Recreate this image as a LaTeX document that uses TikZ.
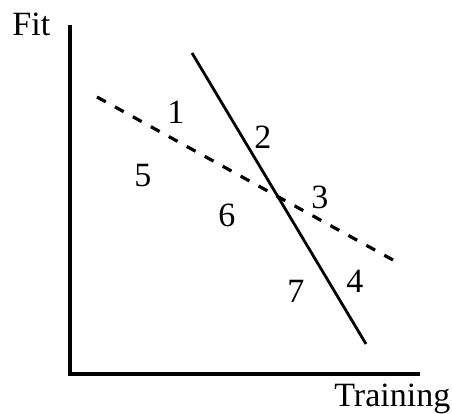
\documentclass[tikz,border=0pt]{standalone}
\usepackage{fontspec}
\setmainfont{Liberation Serif}
\usepackage{tikz}
\usetikzlibrary{positioning}
\tikzset{
  axisline/.style={line width=2pt, line cap=rect},
  fitline/.style={line width=1.4pt},
  trainline/.style={line width=1.6pt, dash pattern=on 5pt off 5.25pt},
  numlabel/.style={inner sep=0pt, font=\fontsize{17}{20}\selectfont},
  axislabel/.style={inner sep=0pt, font=\fontsize{17}{20}\selectfont}
}

\begin{document}
\begin{tikzpicture}[x=0.5pt, y=0.5pt]
  \useasboundingbox (0,0) rectangle (452,414);

  % axes
  \coordinate (top) at (70,387);
  \coordinate (origin) at (70,40);
  \coordinate (right) at (418,40);
  \draw[axisline] (top) -- (origin) -- (right);
  \node[axislabel, anchor=base west] (fit) at (12,379) {Fit};
  \node[axislabel, anchor=base west] (training) at (334,7) {Training};

  % lines
  \coordinate (solidA) at (192,361);
  \coordinate (solidB) at (366,70);
  \coordinate (dashA) at (97,317);
  \coordinate (dashB) at (393,154);
  \draw[fitline] (solidA) -- (solidB);
  \draw[trainline] (dashA) -- (dashB);

  % regions
  \node[numlabel] (r1) at (176,302) {1};
  \node[numlabel] (r2) at (263,277) {2};
  \node[numlabel] (r3) at (320,217) {3};
  \node[numlabel] (r4) at (355,133) {4};
  \node[numlabel] (r5) at (143,238) {5};
  \node[numlabel] (r6) at (227,199) {6};
  \node[numlabel] (r7) at (296,123) {7};
\end{tikzpicture}
\end{document}
